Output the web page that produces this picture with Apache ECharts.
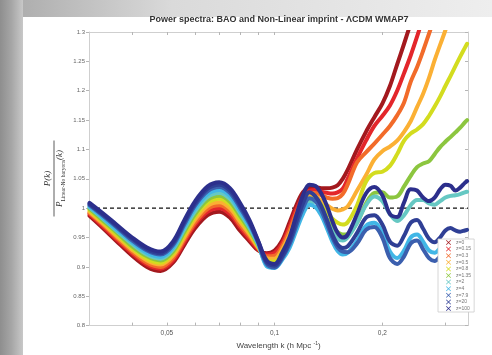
<!DOCTYPE html>
<html><head><meta charset="utf-8">
<script src="https://cdn.jsdelivr.net/npm/echarts@6/dist/echarts.min.js"></script>
<style>html,body{margin:0;padding:0;background:#fff}#c{width:492px;height:355px}</style>
</head><body><div id="c"></div>
<script>
// wavenumber grid (h/Mpc)
const kValues = [0.0304,0.033,0.036,0.04,0.044,0.048,0.052,0.056,0.06,0.065,0.07,0.075,0.08,0.085,0.09,
  0.095,0.1,0.105,0.11,0.115,0.12,0.125,
  0.13,0.135,0.14,0.145,0.15,0.155,0.16,0.17,0.18,0.19,0.2,0.21,0.22,0.23,0.24,0.25,0.26,0.27,0.28,0.29,0.3,0.31,0.32,0.33,0.34,0.345];

const seriesNames = ['z=0','z=0.15','z=0.3','z=0.5','z=0.8','z=1.35','z=2','z=4','z=7.9','z=20','z=100'];
const seriesColors = ['#a3191e','#e3262b','#f26b2a','#fbb034','#d3dc1f','#8cc63f','#66c8c3','#41b6e6','#3b5fae','#2f3f95','#2c2f8c'];

const z0 = [0.987,0.967,0.945,0.919,0.900,0.893,0.907,0.938,0.966,0.988,0.994,0.984,0.962,0.944,0.928,
  0.923,0.928,0.945,0.975,1.005,1.027,1.035,
  1.036,1.034,1.034,1.035,1.039,1.050,1.065,1.100,1.130,1.155,1.178,1.208,1.245,1.280,1.315,null,null,null,null,null,null,null,null,null,null,null];
const z015 = [0.990,0.970,0.948,0.923,0.904,0.897,0.911,0.943,0.972,0.994,1.000,0.990,0.968,0.948,0.930,
  0.921,0.924,0.940,0.968,0.998,1.020,1.030,
  1.031,1.028,1.026,1.025,1.027,1.033,1.050,1.085,1.115,1.140,1.157,1.175,1.200,1.230,1.260,1.292,1.325,null,null,null,null,null,null,null,null,null];
const z03 = [0.992,0.973,0.951,0.926,0.907,0.900,0.915,0.947,0.976,0.999,1.005,0.995,0.972,0.952,0.932,
  0.918,0.919,0.935,0.962,0.992,1.015,1.026,
  1.026,1.022,1.018,1.016,1.017,1.024,1.040,1.078,1.095,1.110,1.125,1.140,1.158,1.180,1.215,1.240,1.268,1.297,1.325,null,null,null,null,null,null,null];
const z05 = [0.994,0.975,0.954,0.929,0.911,0.904,0.919,0.951,0.981,1.004,1.010,1.000,0.977,0.956,0.933,
  0.915,0.914,0.930,0.955,0.985,1.009,1.021,
  1.020,1.013,1.005,0.999,0.996,0.998,1.003,1.030,1.056,1.083,1.097,1.105,1.115,1.130,1.148,1.172,1.195,1.222,1.252,1.278,1.303,1.330,null,null,null,null];
const z08 = [0.997,0.978,0.957,0.932,0.914,0.907,0.923,0.956,0.986,1.009,1.016,1.006,0.982,0.960,0.935,
  0.911,0.909,0.925,0.948,0.978,1.004,1.017,
  1.016,1.006,0.993,0.982,0.975,0.972,0.976,1.005,1.045,1.060,1.062,1.072,1.092,1.115,1.127,1.134,1.143,1.157,1.173,1.190,1.208,1.225,1.242,1.258,1.273,1.280];
const z135 = [0.999,0.980,0.960,0.935,0.918,0.911,0.926,0.960,0.990,1.014,1.021,1.011,0.987,0.963,0.937,
  0.907,0.905,0.920,0.942,0.972,0.999,1.013,
  1.012,0.998,0.982,0.968,0.959,0.955,0.956,0.975,1.008,1.026,1.027,1.018,1.020,1.037,1.055,1.070,1.076,1.080,1.092,1.104,1.113,1.121,1.129,1.137,1.146,1.150];
const z2 = [1.001,0.983,0.963,0.939,0.921,0.914,0.930,0.965,0.995,1.019,1.026,1.016,0.992,0.967,0.938,
  0.904,0.901,0.916,0.937,0.967,0.995,1.010,
  1.011,0.998,0.978,0.960,0.948,0.945,0.950,0.975,1.005,1.020,1.012,0.990,0.978,0.988,1.005,1.014,1.014,1.008,1.006,1.012,1.018,1.021,1.022,1.024,1.027,1.028];
const z4 = [1.003,0.985,0.965,0.942,0.924,0.917,0.933,0.969,1.000,1.024,1.031,1.021,0.996,0.970,0.940,
  0.901,0.898,0.912,0.932,0.962,0.990,1.006,
  1.002,0.988,0.966,0.943,0.927,0.921,0.924,0.945,0.970,0.975,0.958,0.926,0.915,0.928,0.950,0.955,0.943,0.928,0.924,0.932,0.942,0.944,0.938,0.932,0.933,0.934];
const z79 = [1.005,0.988,0.969,0.945,0.928,0.921,0.937,0.973,1.005,1.029,1.036,1.026,1.001,0.974,0.941,
  0.905,0.899,0.915,0.938,0.970,1.000,1.017,
  1.012,0.996,0.973,0.950,0.933,0.926,0.925,0.940,0.963,0.968,0.950,0.915,0.905,0.918,0.940,0.945,0.930,0.915,0.910,0.918,0.928,0.930,0.925,0.920,0.920,0.921];
const z20 = [1.007,0.990,0.971,0.948,0.930,0.923,0.940,0.977,1.008,1.033,1.040,1.030,1.005,0.977,0.943,
  0.908,0.902,0.918,0.943,0.977,1.008,1.027,
  1.020,1.004,0.980,0.955,0.938,0.932,0.935,0.958,0.984,0.988,0.972,0.943,0.936,0.953,0.975,0.980,0.965,0.948,0.942,0.950,0.962,0.966,0.962,0.960,0.962,0.963];
const z100 = [1.009,0.992,0.973,0.950,0.933,0.926,0.943,0.980,1.012,1.037,1.044,1.034,1.009,0.980,0.944,
  0.911,0.905,0.924,0.950,0.988,1.022,1.040,
  1.038,1.025,1.004,0.978,0.958,0.950,0.955,0.990,1.025,1.036,1.022,0.990,0.985,1.010,1.032,1.030,1.018,1.012,1.018,1.032,1.040,1.038,1.030,1.035,1.043,1.046];

const seriesValues = [z0,z015,z03,z05,z08,z135,z2,z4,z79,z20,z100];

// reference line P/P_lin = 1
const refK = [0.0303, 0.347];
const refV = [1, 1];

// axis ticks
const xLabelValues = [0.05, 0.1, 0.2];
const xTickValues = [0.04,0.05,0.06,0.07,0.08,0.09,0.1,0.2,0.3];

const chart = echarts.init(document.getElementById('c'), null, {renderer:'canvas'});

const xMin = 0.0303, xMax = 0.347;
const axisGray = '#cfcfcf';
const labelFont = 'Liberation Sans';

function fmtK(v){ return String(+(+v).toPrecision(3)).replace('.', ','); }

const xCommon = {
  type:'log', logBase:10, min:xMin, max:xMax, gridIndex:0,
  splitLine:{show:false}, minorTick:{show:false},
  axisLine:{show:true, lineStyle:{color:axisGray, width:1}},
};

const lineSeries = seriesNames.map((name,i)=>({
  type:'line', name:name, xAxisIndex:0, yAxisIndex:0,
  data: kValues.map((k,j)=>[k, seriesValues[i][j]]),
  showSymbol:false, symbol:'none', smooth:0.35, connectNulls:false,
  lineStyle:{color:seriesColors[i], width:4, cap:'round', join:'round'},
  itemStyle:{color:seriesColors[i]},
  emphasis:{disabled:true}, z:3
}));

const xIcon = 'path://M0,1L1,0L5,4L9,0L10,1L6,5L10,9L9,10L5,6L1,10L0,9L4,5Z';

const option = {
  animation:false,
  backgroundColor:'#ffffff',
  grid:{left:89, right:24, top:32, bottom:26, containLabel:false},
  xAxis:[
    Object.assign({}, xCommon, {
      position:'bottom',
      axisTick:{show:true, inside:true, length:3, customValues:xTickValues, lineStyle:{color:'#b5b5b5'}},
      axisLabel:{show:true, customValues:xLabelValues, formatter:fmtK, fontSize:6.5, color:'#555', margin:4, fontFamily:labelFont},
      name:'Wavelength k (h Mpc {sup|-1})', nameLocation:'middle', nameGap:13,
      nameTextStyle:{fontSize:8, color:'#444', fontFamily:labelFont, verticalAlign:'top',
        rich:{sup:{fontSize:5, color:'#444', fontFamily:labelFont, verticalAlign:'top', padding:[0,0,4,0]}}}
    }),
    Object.assign({}, xCommon, {
      position:'top',
      axisTick:{show:true, inside:true, length:3, customValues:xTickValues, lineStyle:{color:'#b5b5b5'}},
      axisLabel:{show:false}
    })
  ],
  yAxis:[
    {type:'value', min:0.8, max:1.3, interval:0.05, position:'left',
     splitLine:{show:false},
     axisLine:{show:true, lineStyle:{color:axisGray, width:1}},
     axisTick:{show:true, inside:false, length:3, lineStyle:{color:'#b5b5b5'}},
     axisLabel:{fontSize:6, color:'#666', margin:4, fontFamily:labelFont}},
    {type:'value', min:0.8, max:1.3, interval:0.05, position:'right',
     splitLine:{show:false},
     axisLine:{show:true, lineStyle:{color:axisGray, width:1}},
     axisTick:{show:true, inside:true, length:3, lineStyle:{color:'#b5b5b5'}},
     axisLabel:{show:false}}
  ],
  legend:{
    data:seriesNames, orient:'vertical', left:438, top:239,
    padding:[1,3,1,8], itemWidth:5, itemHeight:5, itemGap:1.6,
    icon:xIcon, backgroundColor:'#ffffff', borderColor:'#cccccc', borderWidth:0.8, borderRadius:0,
    textStyle:{fontSize:5, lineHeight:5, color:'#777', fontFamily:labelFont},
    selectedMode:false
  },
  graphic:[
    {type:'rect', shape:{x:0,y:0,width:492,height:17}, silent:true, z:0,
     style:{fill:{type:'linear',x:0,y:0,x2:1,y2:0,colorStops:[{offset:0,color:'#a8a8a8'},{offset:0.35,color:'#dadada'},{offset:1,color:'#eeeeee'}]}}},
    {type:'rect', shape:{x:0,y:0,width:23,height:355}, silent:true, z:0,
     style:{fill:{type:'linear',x:0,y:0,x2:1,y2:0,colorStops:[{offset:0,color:'#8e8e8e'},{offset:0.5,color:'#a6a6a6'},{offset:1,color:'#c8c8c8'}]}}},
    {type:'text', x:279, y:20, silent:true, z:10,
     style:{text:'Power spectra: BAO and Non-Linear imprint - ΛCDM WMAP7', fontSize:9, fontWeight:'bold',
       fontFamily:labelFont, fill:'#333', align:'center', verticalAlign:'middle'}},
    {type:'group', x:54, y:178.5, rotation:Math.PI/2, silent:true, z:10, children:[
      {type:'line', shape:{x1:-38,y1:0,x2:38,y2:0}, style:{stroke:'#333', lineWidth:0.8}},
      {type:'text', x:0, y:-1.5, style:{text:'P(k)', fontSize:9, fontStyle:'italic', fontFamily:'Liberation Serif',
        fill:'#333', align:'center', verticalAlign:'bottom'}},
      {type:'text', x:0, y:1.5, style:{text:'{p|P}{s|Linear-No baryons}{p|(k)}', align:'center', verticalAlign:'top',
        rich:{p:{fontSize:9, fontStyle:'italic', fontFamily:'Liberation Serif', fill:'#333', lineHeight:11, verticalAlign:'top'},
              s:{fontSize:5.5, fontFamily:'Liberation Serif', fill:'#333', lineHeight:11, verticalAlign:'bottom'}}}}
    ]}
  ],
  series:[
    {type:'line', name:'ref', xAxisIndex:0, yAxisIndex:0,
     data: refK.map((k,i)=>[k, refV[i]]), symbol:'none', silent:true,
     lineStyle:{color:'#111', width:1.3, type:[4,3]}, z:2}
  ].concat(lineSeries)
};
chart.setOption(option);
</script>
</body></html>
